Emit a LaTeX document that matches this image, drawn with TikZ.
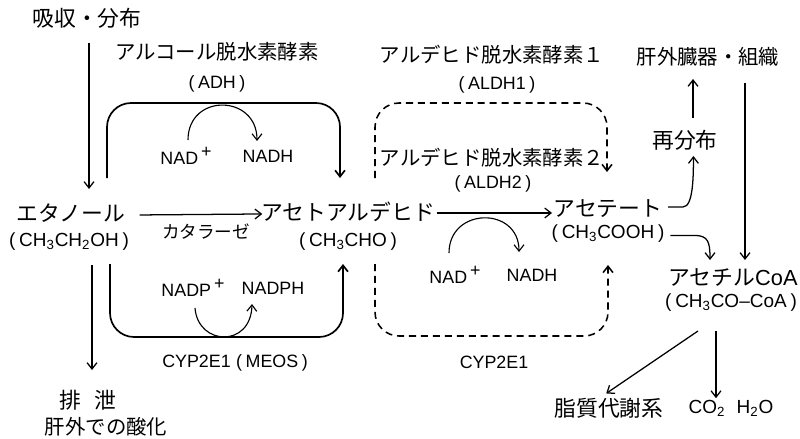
\documentclass[tikz,border=0pt]{standalone}
\usepackage{fontspec}
\setmainfont{Liberation Sans}
\newfontfamily\jp{Noto Sans CJK JP}
\usetikzlibrary{arrows.meta}
\newcommand{\fp}[1]{{\jp #1}}
\newcommand{\lp}{(\kern.2em}
\newcommand{\rp}{\kern.2em)}
\newcommand{\plus}{\,\raisebox{.42em}{+}}
\begin{document}
\begin{tikzpicture}[x=0.025cm,y=-0.025cm,
  every node/.style={inner sep=1pt, text=black},
  big/.style={font=\jp\fontsize{15.5}{18}\selectfont},
  mid/.style={font=\jp\fontsize{14.5}{17}\selectfont},
  sml/.style={font=\jp\fontsize{12.5}{15}\selectfont},
  lat/.style={font=\fontsize{12.7}{15}\selectfont},
  form/.style={font=\fontsize{13.5}{16}\selectfont},
  mixbig/.style={font=\fontsize{15.5}{18}\selectfont},
  arr/.style={-{Straight Barb[length=4.5pt,width=7pt]}, line width=0.9pt},
  cyc/.style={-{Straight Barb[length=4.5pt,width=7pt]}, line width=0.8pt},
  boxline/.style={line width=1.2pt, rounded corners=0.6cm},
  dboxline/.style={line width=1.1pt, dash pattern=on 5pt off 3.5pt, rounded corners=0.6cm},
]
\useasboundingbox (0,0) rectangle (800,439);

% ---- texts ----
\node[big] (absorb) at (87,18) {吸収・分布};
\node[mid] (adhname) at (217,52) {アルコール脱水素酵素};
\node[lat] (adhabbr) at (217,84) {\lp ADH\rp};
\node[mid] (aldh1name) at (492,55) {アルデヒド脱水素酵素１};
\node[lat] (aldh1abbr) at (497,85) {\lp ALDH1\rp};
\node[mid] (organ) at (708,57) {肝外臓器・組織};
\node[big] (redist) at (685,140) {再分布};
\node[lat] (nad1) at (186,156) {NAD\plus};
\node[lat] (nadh1) at (268,156) {NADH};
\node[mid] (aldh2name) at (492,158) {アルデヒド脱水素酵素２};
\node[lat] (aldh2abbr) at (493,184) {\lp ALDH2\rp};
\node[big] (ethanol) at (71,213) {エタノール};
\node[form] (ethf) at (69,242) {\lp CH\textsubscript{3}CH\textsubscript{2}OH\rp};
\node[sml] (catalase) at (206,232) {カタラーゼ};
\node[big] (acetald) at (348,212) {アセトアルデヒド};
\node[form] (acetaldf) at (348,242) {\lp CH\textsubscript{3}CHO\rp};
\node[big] (acetate) at (608,209) {アセテート};
\node[form] (acetatef) at (608,234) {\lp CH\textsubscript{3}COOH\rp};
\node[lat] (nad2) at (455,275) {NAD\plus};
\node[lat] (nadh2) at (532,275) {NADH};
\node[mixbig] (acoa) at (733,278) {\fp{アセチル}CoA};
\node[form] (acoaf) at (731,303) {\lp CH\textsubscript{3}CO\textendash CoA\rp};
\node[lat] (nadp) at (193,288) {NADP\plus};
\node[lat] (nadph) at (273,288) {NADPH};
\node[lat] (cyp1) at (235,363) {CYP2E1\kern.3em\lp MEOS\rp};
\node[lat] (cyp2) at (494,362) {CYP2E1};
\node[big] (excr) at (88,400) {排\hspace{0.6em}泄};
\node[mid] (extox) at (106,427) {肝外での酸化};
\node[big] (lipid) at (609,408) {脂質代謝系};
\node[form] (co2) at (731,408) {CO\textsubscript{2}\hspace{0.6em}H\textsubscript{2}O};

% ---- named coordinates for connector ends ----
\coordinate (absT) at (89,43);
\coordinate (absB) at (89,189);
\coordinate (excT) at (92,265);
\coordinate (excB) at (92,370);
\coordinate (redT) at (693,118);
\coordinate (orgB) at (693,79);
\coordinate (orgT) at (745,83);
\coordinate (acoaT) at (745,260);
\coordinate (acoaB1) at (698,331);
\coordinate (acoaB2) at (716,331);
\coordinate (adhS) at (107,178);
\coordinate (adhE) at (340,178);
\coordinate (cypS) at (110,264);
\coordinate (cypE) at (343,264);
\coordinate (aldhS) at (375,178);
\coordinate (aldhE) at (607,172);
\coordinate (cyp2S) at (375,264);
\coordinate (cyp2E) at (608,265);
\coordinate (nad1s) at (188,140);
\coordinate (nad1e) at (257,141);
\coordinate (nad2s) at (449,253);
\coordinate (nad2e) at (519,252);
\coordinate (nadps) at (195,308);
\coordinate (nadpe) at (252,304);

% ---- straight connectors ----
\draw[arr] (absT) -- (absB);
\draw[arr] (excT) -- (excB);
\draw[arr] (redT) -- (orgB);
\draw[arr] (orgT) -- (acoaT);
\draw[arr] ([xshift=9pt,yshift=-1.4pt]ethanol.east) -- ([xshift=2pt,yshift=-1.4pt]acetald.west);
\draw[arr] ([yshift=-0.7pt]acetald.east) -- ([yshift=-0.7pt]acetald.east -| acetate.west);
\draw[arr] (acoaB1) -- ([xshift=-2pt,yshift=2pt]lipid.north);
\draw[arr] (acoaB2) -- (acoaB2 |- co2.north);

% ---- curved connectors ----
\draw[arr] ([xshift=3pt,yshift=1.5pt]acetate.east) -- ++(15,0) .. controls +(10,0) and +(0,20) .. ([xshift=6pt,yshift=-3pt]redist.south);
\draw[arr] ([xshift=3pt,yshift=-1pt]acetatef.east) -- ++(24,0) .. controls +(14,0) and +(0,-18) .. (710,260);

% ---- enzyme loops ----
\draw[boxline,-{Straight Barb[length=4.5pt,width=7pt]}] (adhS) -- (107,103) -- (340,103) -- (adhE);
\draw[boxline,-{Straight Barb[length=4.5pt,width=7pt]}] (cypS) -- (110,337) -- (343,337) -- (cypE);
\draw[dboxline,-{Straight Barb[length=4.5pt,width=7pt]}] (aldhS) -- (375,103) -- (607,103) -- (aldhE);
\draw[dboxline,-{Straight Barb[length=4.5pt,width=7pt]}] (cyp2S) -- (375,336) -- (608,336) -- (cyp2E);

% ---- cofactor arcs ----
\draw[cyc] (nad1s) .. controls +(0,-47) and +(0,-47) .. (nad1e);
\draw[cyc] (nad2s) .. controls +(0,-46) and +(0,-46) .. (nad2e);
\draw[cyc] (nadps) .. controls +(3,38) and +(-1,44) .. (nadpe);
\end{tikzpicture}
\end{document}
